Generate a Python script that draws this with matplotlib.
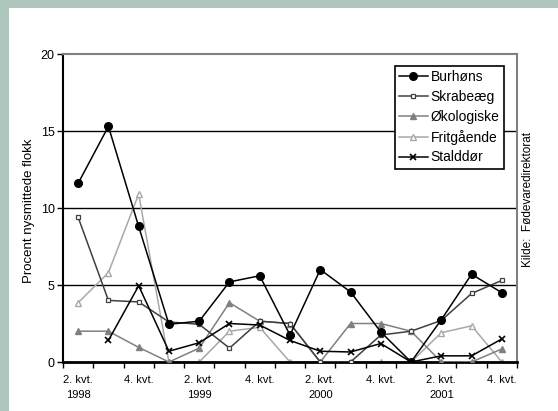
import matplotlib
matplotlib.use('Agg')
import matplotlib.pyplot as plt
from matplotlib.patches import Rectangle

plt.rcParams['font.family'] = ['Liberation Sans', 'DejaVu Sans']

# quarters 2. kvt. 1998 .. 4. kvt. 2001
quarters = ['2.98', '3.98', '4.98', '1.99', '2.99', '3.99', '4.99', '1.00',
            '2.00', '3.00', '4.00', '1.01', '2.01', '3.01', '4.01']
tick_labels = ['2. kvt.\n1998', '4. kvt.', '2. kvt.\n1999', '4. kvt.',
               '2. kvt.\n2000', '4. kvt.', '2. kvt.\n2001', '4. kvt.']

burhoens = [11.6, 15.3, 8.8, 2.45, 2.65, 5.2, 5.6, 1.75, 6.0, 4.55, 1.95, 0.0, 2.75, 5.7, 4.5]
skrabeaeg = [9.4, 4.0, 3.9, 2.6, 2.45, 0.9, 2.65, 2.5, 0.0, 0.0, 1.75, 2.0, 2.7, 4.45, 5.3]
oekologiske = [2.0, 2.0, 0.95, 0.0, 0.9, 3.85, 2.65, 2.5, 0.0, 2.5, 2.5, 2.0, 0.0, 0.0, 0.85]
fritgaaende = [3.85, 5.8, 10.9, 0.0, 0.0, 2.0, 2.25, 0.0, 0.0, 0.0, 0.0, 0.0, 1.9, 2.35, 0.0]
stalddoer = [None, 1.4, 4.95, 0.7, 1.25, 2.5, 2.4, 1.4, 0.7, 0.65, 1.2, 0.0, 0.4, 0.4, 1.5]

# the original chart cuts these two texts off at the top
ylabel_text = 'Procent nysmittede flokk'
source_text = 'Kilde:  Fødevaredirektorat'

fig = plt.figure(figsize=(5.58, 4.11), dpi=100)

# grey-green frame on the left and top
fig.patches.append(Rectangle((0, 0), 9 / 558, 1, transform=fig.transFigure,
                             facecolor='#afc6bd', edgecolor='none', zorder=-1))
fig.patches.append(Rectangle((0, 1 - 8 / 411), 1, 8 / 411, transform=fig.transFigure,
                             facecolor='#afc6bd', edgecolor='none', zorder=-1))

ax = fig.add_axes([63 / 558, 49 / 411, 454 / 558, 308 / 411])

x = list(range(len(quarters)))
xs = [i for i, v in zip(x, stalddoer) if v is not None]
ys = [v for v in stalddoer if v is not None]

ax.plot(x, burhoens, color='black', lw=1.1, marker='o', ms=5.5, label='Burhøns', zorder=5)
ax.plot(x, skrabeaeg, color='#404040', lw=1.1, marker='s', ms=3.5, mfc='white',
        mec='#404040', mew=0.9, label='Skrabeæg', zorder=4)
ax.plot(x, oekologiske, color='#808080', lw=1.1, marker='^', ms=5, label='Økologiske', zorder=3)
ax.plot(x, fritgaaende, color='#a8a8a8', lw=1.1, marker='^', ms=5, mfc='white',
        mec='#a8a8a8', label='Fritgående', zorder=2)
ax.plot(xs, ys, color='black', lw=1.1, marker='x', ms=5, mew=1.2, label='Stalddør', zorder=6)

ax.set_xlim(-0.5, len(quarters) - 0.5)
ax.set_ylim(0, 20)

for v in [5, 10, 15]:
    ax.axhline(v, color='black', lw=1.0, zorder=1)

ax.set_yticks([0, 5, 10, 15, 20])
ax.tick_params(axis='y', direction='out', length=4, width=1, labelsize=9, pad=2)

ax.set_xticks([i - 0.5 for i in range(len(quarters) + 1)])
ax.set_xticklabels([])
ax.set_xticks(x[::2], minor=True)
ax.set_xticklabels(tick_labels, minor=True, fontsize=8, linespacing=1.7, va='top')
ax.tick_params(axis='x', which='major', direction='out', length=4, width=1)
ax.tick_params(axis='x', which='minor', length=0, pad=9)

ax.spines['left'].set_linewidth(1.5)
ax.spines['bottom'].set_linewidth(2)
ax.spines['top'].set_color('#808080')
ax.spines['top'].set_linewidth(1.5)
ax.spines['right'].set_color('#808080')
ax.spines['right'].set_linewidth(1.5)

leg = ax.legend(loc='upper right', bbox_to_anchor=(0.971, 0.961), fontsize=10,
                fancybox=False, edgecolor='black', framealpha=1, handlelength=2.1,
                handletextpad=0.2, borderpad=0.3, labelspacing=0.42, borderaxespad=0)
leg.get_frame().set_linewidth(1.2)

fig.text(29 / 558, 1 - 283 / 411, ylabel_text, rotation=90,
         ha='center', va='bottom', fontsize=9.5)
fig.text(528 / 558, 1 - 267 / 411, source_text, rotation=90,
         ha='center', va='bottom', fontsize=8.5)

fig.savefig('out.png', dpi=100, facecolor='white')
